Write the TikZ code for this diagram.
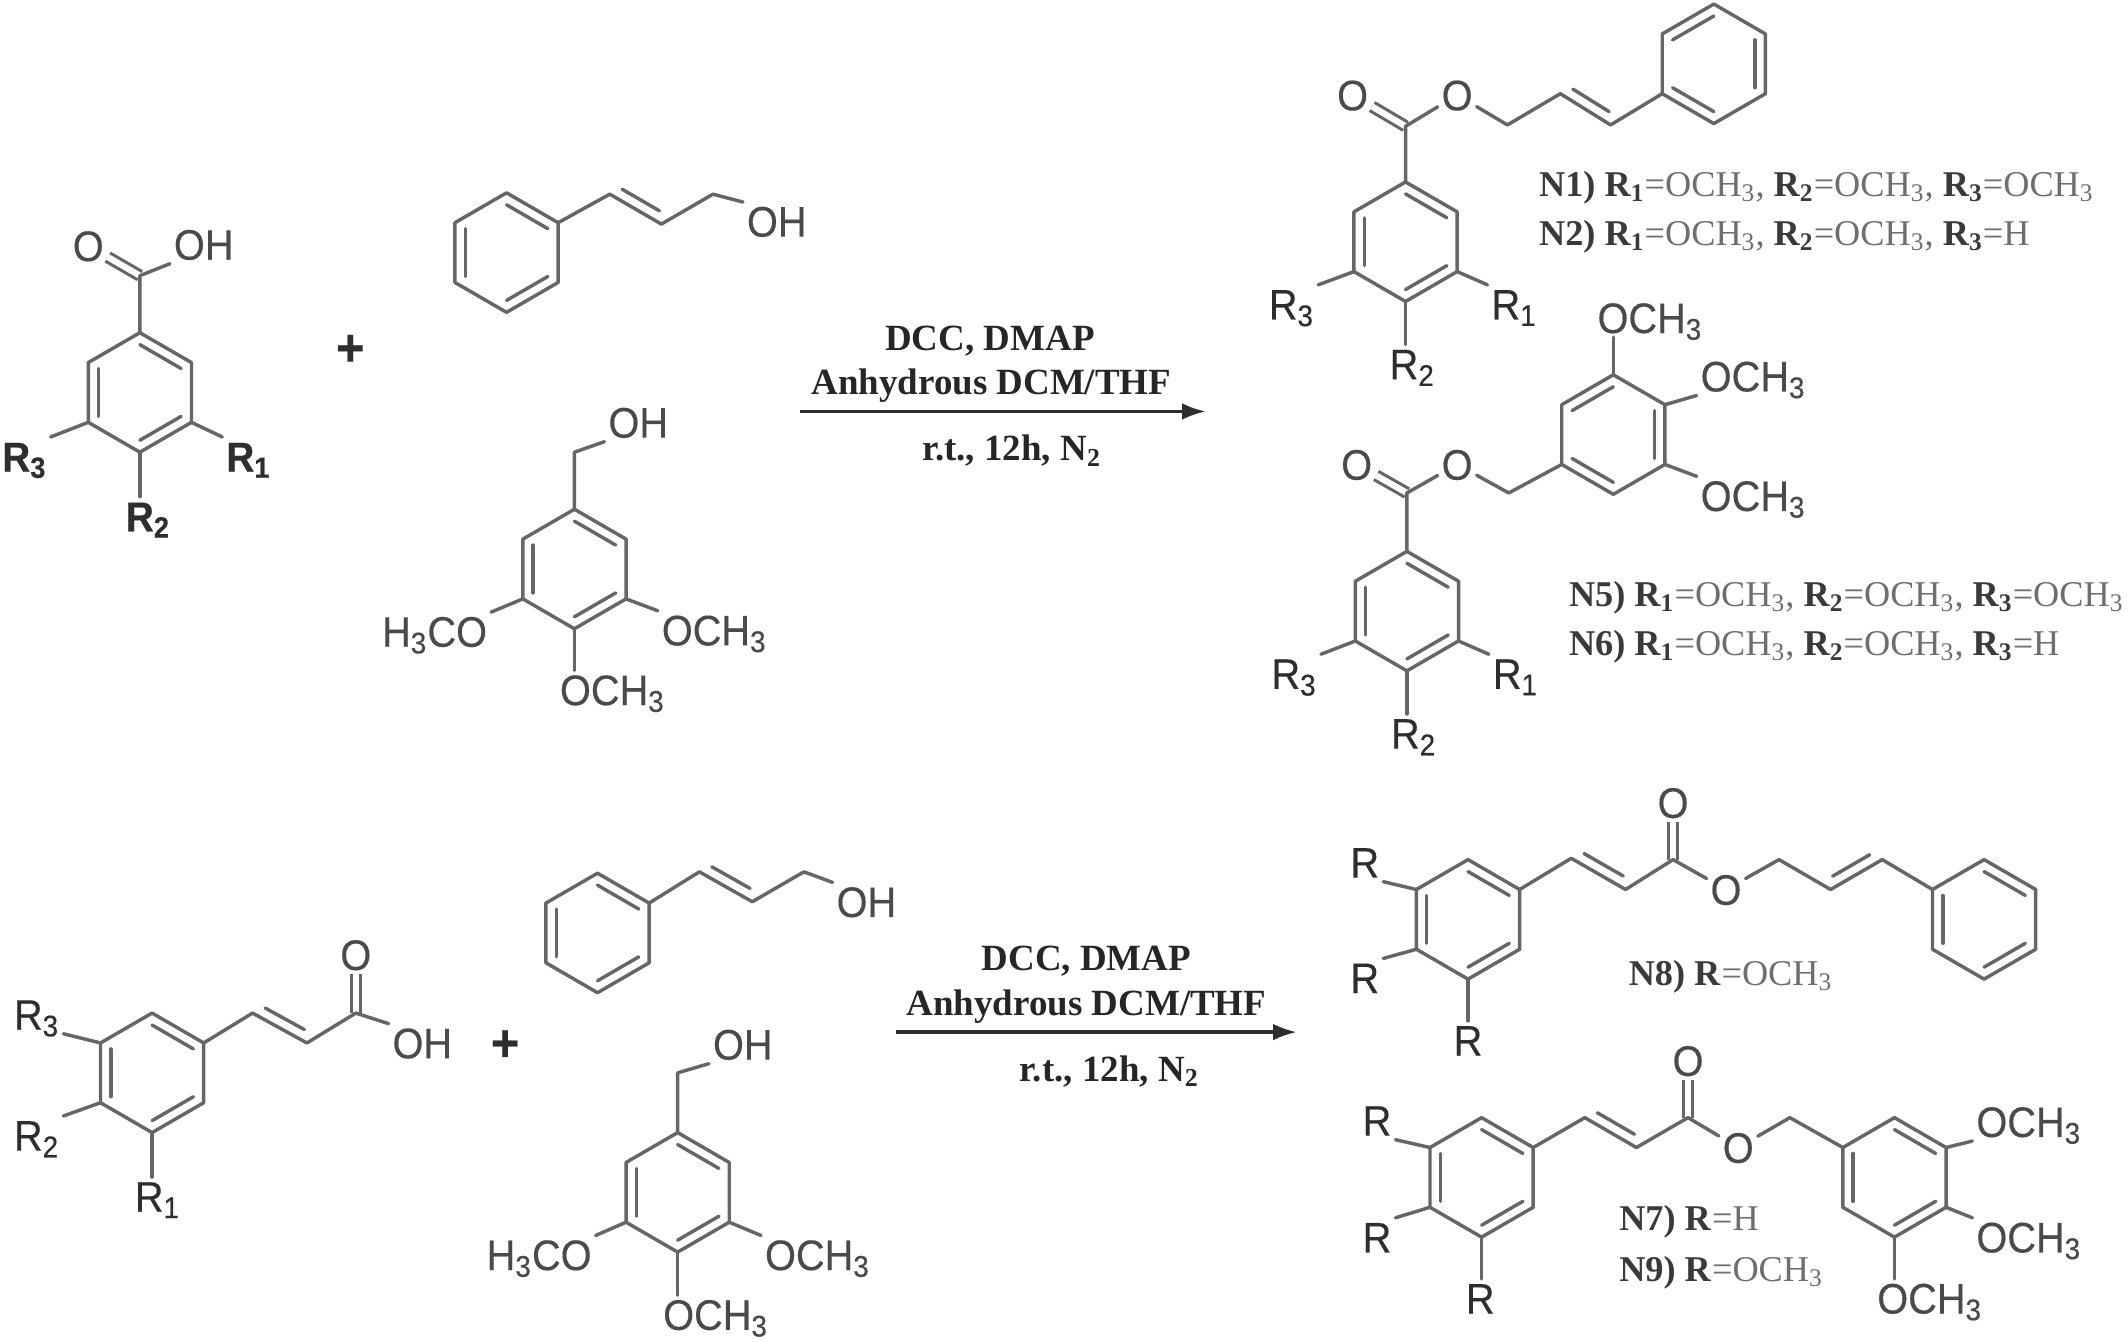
\documentclass[tikz,border=0pt]{standalone}
\usepackage{fontspec}
\setmainfont{Liberation Serif}
\setsansfont[FakeStretch=.93,FakeBold=.35]{Liberation Sans}
\usetikzlibrary{calc,arrows.meta}

\definecolor{bondgray}{HTML}{666666}
\definecolor{atomgray}{HTML}{4A4A4A}
\definecolor{rdark}{HTML}{2E2E2E}
\definecolor{listgray}{HTML}{6E6E6E}
\definecolor{listdark}{HTML}{3A3A3A}
\definecolor{reagentdark}{HTML}{262626}

\tikzset{
	bondline/.style={draw=bondgray,line width=1.45pt,line cap=round,line join=round},
	twinbond/.style={draw=bondgray,line width=1.3pt,double=white,double distance=2.6pt},
	atomlabel/.style={text=atomgray,font=\sffamily\fontsize{17.9}{20}\selectfont,inner sep=1.5pt,text height=12.8pt,text depth=0pt},
	rlabel/.style={atomlabel,text=rdark},
	rbold/.style={atomlabel,text=rdark,font=\sffamily\bfseries\fontsize{17.5}{20}\selectfont},
	pluslabel/.style={text=rdark,font=\sffamily\bfseries\fontsize{22}{24}\selectfont,inner sep=0pt},
	reagent/.style={text=reagentdark,font=\bfseries\fontsize{15.5}{18}\selectfont,inner sep=0pt},
	listrow/.style={anchor=west,text=listgray,font=\fontsize{15.2}{18}\selectfont,inner sep=0pt},
	rxnarrow/.style={-{Latex[length=10pt,width=7pt]},draw=rdark,line width=1.5pt}
}

% hexagon with the three inner lines given as vertex pairs
\newcommand{\benzene}[4]{%
	\coordinate (#1c) at (#2,#3);
	\foreach \n/\dx/\dy in {1/0/-44,2/38/-22,3/38/22,4/0/44,5/-38/22,6/-38/-22}
		\coordinate (#1\n) at (#2+\dx,#3+\dy);
	\draw[bondline] (#11)--(#12)--(#13)--(#14)--(#15)--(#16)--cycle;
	\foreach \a/\b in {#4}
		\draw[bondline] ($(#1c)!.8!(#1\a)$)--($(#1c)!.8!(#1\b)$);
}
% second line of a chain double bond, on its upper side
\newcommand{\alkene}[2]{%
	\draw[bondline] ($(#1)!.14!(#2)!4.4pt!90:(#2)$)--($(#1)!.86!(#2)!4.4pt!90:(#2)$);
}
\newcommand{\Rsub}[1]{\textcolor{listdark}{\textbf{R\textsubscript{#1}}}}
\newcommand{\Ntag}[1]{\textcolor{listdark}{\textbf{#1)}}}
\newcommand{\ochsub}{=OCH\textsubscript{3}}

\begin{document}
\begin{tikzpicture}[x=0.02cm,y=-0.02cm]
	\useasboundingbox (0,0) rectangle (1567,987.5);

	%top acid
	\benzene{acidA}{103}{289}{1/2,3/4,5/6}
	\coordinate (acidAc0) at (103,203);
	\node[atomlabel] (acidAo) at (65,181) {O};
	\node[atomlabel] (acidAoh) at (150,180) {OH};
	\node[rbold] (acidAr3) at (18,336) {R\textsubscript{3}};
	\node[rbold] (acidAr1) at (183,336) {R\textsubscript{1}};
	\node[rbold] (acidAr2) at (109,380) {R\textsubscript{2}};
	\draw[twinbond] (acidAc0)--(acidAo);
	\draw[bondline] (acidA1)--(acidAc0)--(acidAoh.south west);
	\draw[bondline] (acidA5)--(acidAr3.north east);
	\draw[bondline] (acidA3)--(acidAr1.north west);
	\draw[bondline] (acidA4)--(acidA4 |- acidAr2.north);
	%
	\node[pluslabel] (plusA) at (258,258) {+};

	%top cinnamyl alcohol
	\benzene{cinA}{373}{186}{1/2,3/4,5/6}
	\coordinate (cinAa) at (449,143);
	\coordinate (cinAb) at (487,165);
	\coordinate (cinAd) at (525,143);
	\node[atomlabel] (cinAoh) at (572,163) {OH};
	\draw[bondline] (cinA2)--(cinAa)--(cinAb)--(cinAd)--(cinAoh.north west);
	\alkene{cinAa}{cinAb}

	%top trimethoxybenzyl alcohol
	\benzene{tmbA}{423}{419}{1/2,3/4,5/6}
	\coordinate (tmbAch) at (423,333);
	\node[atomlabel] (tmbAoh) at (470,311) {OH};
	\node[atomlabel] (tmbAl) at (320,465) {H\textsubscript{3}CO};
	\node[atomlabel] (tmbAr) at (526,464) {OCH\textsubscript{3}};
	\node[atomlabel] (tmbAb) at (451,508) {OCH\textsubscript{3}};
	\draw[bondline] (tmbA1)--(tmbAch)--(tmbAoh.south west);
	\draw[bondline] (tmbA5)--(tmbAl.north east);
	\draw[bondline] (tmbA3)--(tmbAr.north west);
	\draw[bondline] (tmbA4)--(tmbA4 |- tmbAb.north);

	%top arrow
	\coordinate (arrowAs) at (589,303);
	\coordinate (arrowAe) at (888,303);
	\draw[rxnarrow] (arrowAs)--(arrowAe);
	\node[reagent] (dccA) at (729,251) {DCC, DMAP};
	\node[reagent] (solA) at (730,284) {Anhydrous DCM/THF};
	\node[reagent] (condA) at (745,332) {r.t., 12h, N\textsubscript{2}};

	%N1 N2
	\benzene{prodA}{1035}{178}{1/2,3/4,5/6}
	\benzene{phA}{1262}{47}{6/1,2/3,4/5}
	\coordinate (prodAc0) at (1035,93);
	\node[atomlabel] (prodAo) at (996,70) {O};
	\node[atomlabel] (prodAe) at (1073,70) {O};
	\coordinate (prodAch) at (1110,92);
	\coordinate (prodAa) at (1149,69);
	\coordinate (prodAb) at (1186,92);
	\node[rlabel] (prodAr3) at (951,224) {R\textsubscript{3}};
	\node[rlabel] (prodAr1) at (1115,224) {R\textsubscript{1}};
	\node[rlabel] (prodAr2) at (1040,268) {R\textsubscript{2}};
	\draw[twinbond] (prodAc0)--(prodAo);
	\draw[bondline] (prodA1)--(prodAc0)--(prodAe)--(prodAch)--(prodAa)--(prodAb)--(phA5);
	\alkene{prodAa}{prodAb}
	\draw[bondline] (prodA5)--(prodAr3.north east);
	\draw[bondline] (prodA3)--(prodAr1.north west);
	\draw[bondline] (prodA4)--(prodA4 |- prodAr2.north);
	\node[listrow] (rowNa) at (1133,138) {\Ntag{N1} \Rsub{1}\ochsub, \Rsub{2}\ochsub, \Rsub{3}\ochsub};
	\node[listrow] (rowNb) at (1133,174) {\Ntag{N2} \Rsub{1}\ochsub, \Rsub{2}\ochsub, \Rsub{3}=H};

	%N5 N6
	\benzene{prodB}{1036}{450}{1/2,3/4,5/6}
	\benzene{tmbB}{1188}{320}{6/1,2/3,4/5}
	\coordinate (prodBc0) at (1036,363);
	\node[atomlabel] (prodBo) at (999,342) {O};
	\node[atomlabel] (prodBe) at (1073,342) {O};
	\coordinate (prodBch) at (1111,363);
	\node[rlabel] (prodBr3) at (953,496) {R\textsubscript{3}};
	\node[rlabel] (prodBr1) at (1116,496) {R\textsubscript{1}};
	\node[rlabel] (prodBr2) at (1041,540) {R\textsubscript{2}};
	\node[atomlabel] (tmbBt) at (1215,234) {OCH\textsubscript{3}};
	\node[atomlabel] (tmbBm) at (1291,277) {OCH\textsubscript{3}};
	\node[atomlabel] (tmbBl) at (1291,365) {OCH\textsubscript{3}};
	\draw[twinbond] (prodBc0)--(prodBo);
	\draw[bondline] (prodB1)--(prodBc0)--(prodBe)--(prodBch)--(tmbB5);
	\draw[bondline] (prodB5)--(prodBr3.north east);
	\draw[bondline] (prodB3)--(prodBr1.north west);
	\draw[bondline] (prodB4)--(prodB4 |- prodBr2.north);
	\draw[bondline] (tmbB1)--(tmbB1 |- tmbBt.south);
	\draw[bondline] (tmbB2)--(tmbBm.south west);
	\draw[bondline] (tmbB3)--(tmbBl.north west);
	\node[listrow] (rowNe) at (1155,440) {\Ntag{N5} \Rsub{1}\ochsub, \Rsub{2}\ochsub, \Rsub{3}\ochsub};
	\node[listrow] (rowNf) at (1155,476) {\Ntag{N6} \Rsub{1}\ochsub, \Rsub{2}\ochsub, \Rsub{3}=H};

	%bottom acid
	\benzene{acidC}{112}{790}{1/2,3/4,5/6}
	\coordinate (acidCa) at (186,746);
	\coordinate (acidCb) at (226,768);
	\coordinate (acidCc0) at (262,746);
	\node[atomlabel] (acidCo) at (262,703) {O};
	\node[atomlabel] (acidCoh) at (311,768) {OH};
	\node[rlabel] (acidCr3) at (27,747) {R\textsubscript{3}};
	\node[rlabel] (acidCr2) at (27,836) {R\textsubscript{2}};
	\node[rlabel] (acidCr1) at (116,881) {R\textsubscript{1}};
	\draw[twinbond] (acidCc0)--(acidCo);
	\draw[bondline] (acidC2)--(acidCa)--(acidCb)--(acidCc0)--(acidCoh.north west);
	\alkene{acidCa}{acidCb}
	\draw[bondline] (acidC6)--(acidCr3.south east);
	\draw[bondline] (acidC5)--(acidCr2.north east);
	\draw[bondline] (acidC4)--(acidC4 |- acidCr1.north);
	%
	\node[pluslabel] (plusC) at (372,770) {+};

	%bottom cinnamyl alcohol
	\benzene{cinC}{440}{687}{1/2,3/4,5/6}
	\coordinate (cinCa) at (515,642);
	\coordinate (cinCb) at (554,664);
	\coordinate (cinCd) at (592,642);
	\node[atomlabel] (cinCoh) at (638,664) {OH};
	\draw[bondline] (cinC2)--(cinCa)--(cinCb)--(cinCd)--(cinCoh.north west);
	\alkene{cinCa}{cinCb}

	%bottom trimethoxybenzyl alcohol
	\benzene{tmbC}{499}{878}{1/2,3/4,5/6}
	\coordinate (tmbCch) at (499,790);
	\node[atomlabel] (tmbCoh) at (547,769) {OH};
	\node[atomlabel] (tmbCl) at (397,924) {H\textsubscript{3}CO};
	\node[atomlabel] (tmbCr) at (602,924) {OCH\textsubscript{3}};
	\node[atomlabel] (tmbCb) at (527,968) {OCH\textsubscript{3}};
	\draw[bondline] (tmbC1)--(tmbCch)--(tmbCoh.south west);
	\draw[bondline] (tmbC5)--(tmbCl.north east);
	\draw[bondline] (tmbC3)--(tmbCr.north west);
	\draw[bondline] (tmbC4)--(tmbC4 |- tmbCb.north);

	%bottom arrow
	\coordinate (arrowCs) at (660,760);
	\coordinate (arrowCe) at (955,760);
	\draw[rxnarrow] (arrowCs)--(arrowCe);
	\node[reagent] (dccC) at (800,708) {DCC, DMAP};
	\node[reagent] (solC) at (800,741) {Anhydrous DCM/THF};
	\node[reagent] (condC) at (817,789) {r.t., 12h, N\textsubscript{2}};

	%N8
	\benzene{prodD}{1081}{677}{1/2,3/4,5/6}
	\benzene{phD}{1461}{677}{1/2,3/4,5/6}
	\coordinate (prodDa) at (1157,632);
	\coordinate (prodDb) at (1197,655);
	\coordinate (prodDc0) at (1232,633);
	\node[atomlabel] (prodDo) at (1232,591) {O};
	\node[atomlabel] (prodDe) at (1271,655) {O};
	\coordinate (prodDch) at (1310,633);
	\coordinate (prodDf) at (1348,655);
	\coordinate (prodDg) at (1386,633);
	\node[rlabel] (prodDr3) at (1005,635) {R};
	\node[rlabel] (prodDr2) at (1005,720) {R};
	\node[rlabel] (prodDr1) at (1081,766) {R};
	\draw[twinbond] (prodDc0)--(prodDo);
	\draw[bondline] (prodD2)--(prodDa)--(prodDb)--(prodDc0)--(prodDe)--(prodDch)--(prodDf)--(prodDg)--(phD6);
	\alkene{prodDa}{prodDb}
	\alkene{prodDf}{prodDg}
	\draw[bondline] (prodD6)--(prodDr3.south east);
	\draw[bondline] (prodD5)--(prodDr2.north east);
	\draw[bondline] (prodD4)--(prodD4 |- prodDr1.north);
	\node[listrow] (rowNh) at (1199,719) {\Ntag{N8} \Rsub{}\ochsub};

	%N7 N9
	\benzene{prodE}{1091}{867}{1/2,3/4,5/6}
	\benzene{tmbE}{1395}{867}{1/2,3/4,5/6}
	\coordinate (prodEa) at (1167,823);
	\coordinate (prodEb) at (1205,845);
	\coordinate (prodEc0) at (1243,823);
	\node[atomlabel] (prodEo) at (1243,781) {O};
	\node[atomlabel] (prodEe) at (1280,845) {O};
	\coordinate (prodEch) at (1318,823);
	\node[rlabel] (prodEr3) at (1014,825) {R};
	\node[rlabel] (prodEr2) at (1014,911) {R};
	\node[rlabel] (prodEr1) at (1090,956) {R};
	\node[atomlabel] (tmbEt) at (1494,826) {OCH\textsubscript{3}};
	\node[atomlabel] (tmbEm) at (1494,911) {OCH\textsubscript{3}};
	\node[atomlabel] (tmbEb) at (1421,956) {OCH\textsubscript{3}};
	\draw[twinbond] (prodEc0)--(prodEo);
	\draw[bondline] (prodE2)--(prodEa)--(prodEb)--(prodEc0)--(prodEe)--(prodEch)--(tmbE6);
	\alkene{prodEa}{prodEb}
	\draw[bondline] (prodE6)--(prodEr3.south east);
	\draw[bondline] (prodE5)--(prodEr2.north east);
	\draw[bondline] (prodE4)--(prodE4 |- prodEr1.north);
	\draw[bondline] (tmbE2)--(tmbEt.south west);
	\draw[bondline] (tmbE3)--(tmbEm.north west);
	\draw[bondline] (tmbE4)--(tmbE4 |- tmbEb.north);
	\node[listrow] (rowNg) at (1192,900) {\Ntag{N7} \Rsub{}=H};
	\node[listrow] (rowNi) at (1192,937) {\Ntag{N9} \Rsub{}\ochsub};
\end{tikzpicture}
\end{document}
